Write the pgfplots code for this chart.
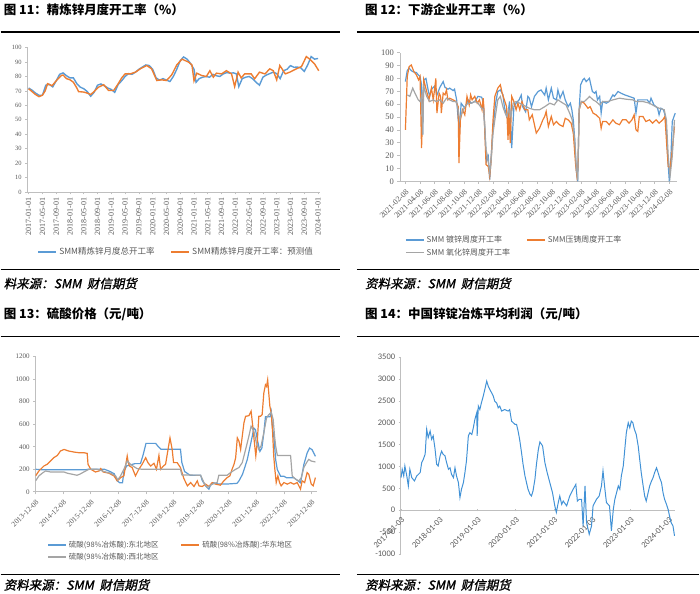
\documentclass[border=0pt]{standalone}
\usepackage{fontspec}
\usepackage{pgfplots}
\pgfplotsset{compat=1.18}
\setmainfont{Liberation Serif}
\newfontfamily\cjk{Noto Sans CJK SC}
\newfontfamily\cjksl[FakeSlant=0.2,FakeBold=1.2]{Noto Sans CJK SC}
\newfontfamily\calib{Carlito}
\definecolor{sblue}{RGB}{91,155,213}
\definecolor{pblue}{RGB}{66,146,214}
\definecolor{sorange}{RGB}{237,125,49}
\definecolor{sgray}{RGB}{165,165,165}
\definecolor{axgray}{RGB}{191,191,191}
\definecolor{labgray}{RGB}{89,89,89}

\pgfplotsset{
  panel/.style={
    scale only axis, axis x line*=bottom, axis y line*=left,
    axis line style={draw=axgray, line width=0.7pt},
    every tick/.style={draw=axgray, line width=0.6pt},
    major tick length=2.5pt, tick align=outside,
    ticklabel style={text=labgray},
    /pgf/number format/assume math mode=true,
    /pgf/number format/1000 sep={},
    legend cell align=left,
    legend style={draw=none, fill=none, inner sep=0pt, outer sep=0pt, text=labgray},
    legend image code/.code={\draw[##1, line width=1.8pt] (0pt,0pt) -- (18pt,0pt);},
  },
}

\begin{document}
\begin{tikzpicture}
\path (0pt,0pt) rectangle (700pt,-595pt);

% ---------- 图 11 ----------
\begin{axis}[panel, at={(27pt,-192.3pt)}, anchor=south west,
  width=292.7pt, height=144.6pt,
  xmin=-0.3, xmax=84.5, ymin=0, ymax=100, ytick={0,10,...,100},
  xtick={0,4,...,84},
  xticklabels={2017-01-01,2017-05-01,2017-09-01,2018-01-01,2018-05-01,2018-09-01,
    2019-01-01,2019-05-01,2019-09-01,2020-01-01,2020-05-01,2020-09-01,
    2021-01-01,2021-05-01,2021-09-01,2022-01-01,2022-05-01,2022-09-01,
    2023-01-01,2023-05-01,2023-09-01,2024-01-01},
  xticklabel style={rotate=90, anchor=east, font=\fontsize{8}{9}\selectfont},
  yticklabel style={font=\fontsize{6.5}{7}\selectfont},
  legend columns=2,
  legend style={at={(0.034,-0.372)}, anchor=north west, font=\cjk\fontsize{8.5}{10}\selectfont,
    /tikz/every even column/.append style={column sep=14pt}},
]
\addplot[color=sblue, line width=1.4pt] coordinates {
(0,72) (1,70.5) (2,68.5) (3,67) (4,67) (5,74) (6,74.5) (7,72.8) (8,77) (9,81.5)
(10,82.5) (11,80.5) (12,79) (13,79) (14,75) (15,72.6) (16,71.5) (17,69.6) (18,66.3) (19,69)
(20,74) (21,74.8) (22,73.5) (23,72) (24,71) (25,69) (26,74.5) (27,77) (28,80) (29,82)
(30,81.5) (31,83) (32,85) (33,86.5) (34,88) (35,87.6) (36,85) (37,79) (38,77.5) (39,78.5)
(40,77.5) (41,76.5) (42,80) (43,85) (44,91) (45,93.5) (46,92) (47,89) (48,85) (48.6,76)
(49.5,78.5) (50.5,79.5) (51.5,80) (52.5,79.5) (53.5,81.5) (54.5,80.5) (55.5,80) (56.5,81.8)
(57.5,82.7) (58.5,82.3) (59.5,82.5) (60.3,81.8) (61,73) (62,78.5) (63,79.5) (64,80) (65,78.5)
(66,76) (67,74) (68,79.5) (69,81) (70,82) (71,83) (72,82) (73,78.5) (74,84) (75,85)
(76,87.5) (77,86.4) (78,86.5) (79,86) (80,83.5) (81,88) (82,93.8) (83,92) (84,92.5)
};
\addlegendentry{SMM精炼锌月度总开工率}
\addplot[color=sorange, line width=1.4pt] coordinates {
(0,71.5) (1,69.5) (2,67.5) (3,66) (4,67) (4.8,70) (5.5,75) (6.8,73.6) (8,77) (9.5,80.7)
(10,81) (11,78.5) (12,77.7) (13,76) (14,72) (14.5,69.5) (16,69.2) (17,68.5) (18,67.5) (19,69.5)
(20.3,72.6) (21.8,74.3) (23.2,70.3) (24.7,70.3) (26,75) (27,79) (28,81.8) (29.5,81.8) (31,83)
(32.4,85.3) (34.3,87.6) (35.7,85.3) (36.5,81) (37.2,77.2) (38.6,77.7) (40,77.2) (41.5,81)
(43,88) (44.5,92) (46.4,90) (47.4,88) (48,77) (48.8,82.3) (50.2,80.7) (51.6,80) (52.6,84)
(53.6,79.5) (54.5,82.3) (56,81.8) (57.4,84) (58.9,81.8) (59.8,73) (60.8,83) (61.7,79)
(62.7,81.8) (64.6,81.8) (65.6,78.4) (67,83) (68.6,81.8) (70,85.3) (71,84) (72,77.7)
(72.9,87.6) (74.5,81.8) (75.8,83) (77.7,85.3) (79.2,86.9) (80.6,93.8) (81.6,92) (83,88.7) (84.2,84)
};
\addlegendentry{SMM精炼锌月度开工率：预测值}
\end{axis}

% ---------- 图 12 ----------
\begin{axis}[panel, at={(400pt,-181.7pt)}, anchor=south west,
  width=278pt, height=129pt,
  xmin=-0.75, xmax=37.1, ymin=0, ymax=100, ytick={0,10,...,100},
  xtick={0,2,...,36},
  xticklabels={2021-02-08,2021-04-08,2021-06-08,2021-08-08,2021-10-08,2021-12-08,
    2022-02-08,2022-04-08,2022-06-08,2022-08-08,2022-10-08,2022-12-08,
    2023-02-08,2023-04-08,2023-06-08,2023-08-08,2023-10-08,2023-12-08,2024-02-08},
  xticklabel style={rotate=45, anchor=north east, font=\fontsize{8}{9}\selectfont},
  yticklabel style={font=\fontsize{8.5}{9}\selectfont},
  legend columns=2,
  legend style={at={(0.018,-0.41)}, anchor=north west, font=\cjk\fontsize{8}{10}\selectfont,
    /tikz/every even column/.append style={column sep=14pt}},
]
\addplot[color=sblue, line width=1.2pt] coordinates {
(0,77.5) (0.25,86) (0.5,88) (0.8,86) (1.1,85) (1.5,84.5) (1.75,82.7) (2,81.4) (2.2,75) (2.35,36)
(2.5,78.8) (2.8,80) (3.1,71) (3.3,66) (3.56,71.6) (4,74) (4.3,67) (4.7,73) (5.15,77.5) (5.4,73)
(5.8,71.6) (6.05,72.4) (6.5,70.5) (6.7,71.6) (7,63) (7.2,47.8) (7.4,41.3) (7.6,60.7) (8.1,56.8)
(8.55,63.3) (9,60.7) (9.46,62) (9.9,66) (10.4,65.4) (10.6,62) (10.8,44) (11.05,15.5) (11.3,19.4)
(11.5,1.3) (11.7,19.4) (11.95,41.3) (12.3,60.7) (12.6,69.8) (12.95,71) (13.3,67.2) (13.5,58)
(13.8,50.4) (14,53) (14.2,62) (14.5,25.8) (14.8,58) (15.1,60.7) (15.5,63.3) (15.8,67) (16,58)
(16.4,54) (16.7,66) (16.9,64.6) (17.2,58) (17.6,66) (18.1,69.8) (18.5,71) (19,67) (19.2,72.4)
(19.5,63.3) (19.9,72.4) (20.2,64.6) (20.6,63.3) (20.8,71) (21.1,64.6) (21.5,69.8) (21.8,63.3)
(22.2,58) (22.5,60.7) (22.7,55.6) (22.9,47.8) (23.1,32.3) (23.3,9) (23.5,0) (23.7,55.6) (23.9,75)
(24.2,78.8) (24.4,80) (24.65,77.5) (24.9,78.8) (25.1,80) (25.5,69.8) (25.8,68.5) (26,69.8)
(26.2,63.3) (26.5,66) (26.7,53) (26.9,62) (27.4,60.7) (27.8,62) (28.3,67.2) (28.5,66) (29,69.8)
(29.4,68.5) (29.9,67.2) (30.5,66) (31.2,64.6) (31.45,53) (31.7,63.3) (32.4,63.3) (33,63.3)
(33.3,60.7) (33.5,64.6) (33.9,59.4) (34.4,56.8) (34.6,51.7) (34.85,56.8) (35.2,55.6) (35.4,51.7)
(35.6,40) (35.8,16.8) (36,0) (36.2,16.8) (36.4,46.5) (36.8,53)
};
\addlegendentry{SMM 镀锌周度开工率}
\addplot[color=sorange, line width=1.2pt] coordinates {
(0,40) (0.25,81.4) (0.5,89) (0.8,90.4) (1.15,85.3) (1.5,82.7) (1.8,78.8) (2,81.4) (2.2,25.8)
(2.5,78.8) (2.9,69.8) (3.2,63.3) (3.55,72.4) (3.8,63.3) (4,72.4) (4.15,80) (4.3,53) (4.6,68.5)
(4.8,66) (4.9,53) (5.15,68.5) (5.4,67.2) (5.6,71) (5.8,63.3) (6.05,64.6) (6.5,63.3) (6.9,62)
(7.2,58) (7.3,14.2) (7.5,47.8) (7.8,55.6) (8.1,51.7) (8.4,66) (8.7,59.4) (8.9,67.2) (9.1,63.3)
(9.46,66) (9.8,60.7) (10.1,63.3) (10.45,55.6) (10.6,64.6) (10.7,58) (11,13) (11.3,11.6)
(11.5,3.9) (11.7,16.8) (11.95,47.8) (12.2,66) (12.6,72.4) (12.95,75) (13.2,68.5) (13.5,63.3)
(13.8,58) (14,32.3) (14.1,55.6) (14.3,29.7) (14.5,66) (14.8,62) (15.1,55.6) (15.35,60.7)
(15.6,55.6) (15.9,62) (16.3,55.6) (16.7,55.6) (16.9,47.8) (17.3,51.7) (17.6,44) (17.85,37.5)
(18.3,41.3) (18.75,47.8) (19,50.4) (19.2,54.3) (19.5,42.6) (19.9,50.4) (20.2,44) (20.6,46.5)
(21,44) (21.5,42.6) (21.8,49) (22.2,47.8) (22.6,45.2) (22.9,37.5) (23.2,14.2) (23.4,3.9)
(23.55,11.6) (23.7,55.6) (24,62) (24.4,60.7) (24.9,56.8) (25.2,58) (25.6,53) (26,51.7) (26.5,49)
(26.7,41.3) (26.9,46.5) (27.4,46.5) (27.8,44) (28.3,47.8) (28.7,45.2) (29.2,44) (29.6,47.8)
(30.1,47.8) (30.5,45.2) (30.9,47.8) (31.2,51.7) (31.45,40) (31.7,38.8) (31.9,50.4) (32.4,50.4)
(32.8,46.5) (33.3,47.8) (33.7,45.2) (34.2,47.8) (34.6,45.2) (35.1,47.8) (35.4,50.4) (35.6,32.3)
(35.85,11.6) (36.1,10.3) (36.4,24.5) (36.7,42.6)
};
\addlegendentry{SMM压铸周度开工率}
\addplot[color=sgray, line width=1.2pt] coordinates {
(0.25,67.2) (0.6,66) (1,72.4) (1.3,68.5) (1.75,63.3) (2,62) (2.2,66) (2.35,36.2) (2.5,73.6)
(2.9,66) (3.3,62) (3.8,63.3) (4.2,62) (4.7,63.3) (5.15,60.7) (5.6,64.6) (6.05,63.3) (6.5,62)
(6.9,62) (7.2,55.6) (7.4,47.8) (7.6,51.7) (8.1,58) (8.55,60.7) (9,60.7) (9.46,62) (9.9,60.7)
(10.4,56.8) (10.7,55.6) (11,24.5) (11.2,19.4) (11.5,6.5) (11.7,16.8) (11.95,37.5) (12.3,51.7)
(12.6,63.3) (12.95,66) (13.3,58) (13.6,53) (13.85,50.4) (14.1,55.6) (14.4,50.4) (14.7,60.7)
(15.1,62) (15.6,60.7) (16,59.4) (16.5,58) (16.9,56.8) (17.6,55.6) (18.3,55.6) (19,58)
(19.7,60.7) (20.3,59.4) (20.8,63.3) (21.5,60.7) (21.9,59.4) (22.4,53) (22.75,47.8) (23.1,32.3)
(23.3,11.6) (23.5,1.3) (23.7,55.6) (24,62) (24.4,62) (24.9,64.6) (25.1,66) (25.6,63.3) (26,62)
(26.5,59.4) (26.9,62) (27.6,62) (28.3,63.3) (29.2,64.6) (30.1,63.8) (31,63.3) (31.45,62)
(32.4,62) (33.3,60.7) (33.9,58.7) (34.6,56.8) (35.3,55.6) (35.6,47.8) (35.85,19.4) (36.1,3.9)
(36.4,19.4) (36.7,47.8)
};
\addlegendentry{SMM 氧化锌周度开工率}
\end{axis}

% ---------- 图 13 ----------
\begin{axis}[panel, at={(35pt,-492.7pt)}, anchor=south west,
  width=282pt, height=135.4pt,
  xmin=0, xmax=10.2, ymin=0, ymax=1200, ytick={0,200,...,1200},
  xtick={0,1,...,10},
  xticklabels={2013-12-08,2014-12-08,2015-12-08,2016-12-08,2017-12-08,2018-12-08,
    2019-12-08,2020-12-08,2021-12-08,2022-12-08,2023-12-08},
  xticklabel style={rotate=45, anchor=north east, font=\fontsize{7.5}{8}\selectfont},
  yticklabel style={font=\fontsize{7}{8}\selectfont},
  legend columns=2,
  legend style={at={(0.041,-0.35)}, anchor=north west, font=\cjk\fontsize{7.5}{9}\selectfont,
    /tikz/every even column/.append style={column sep=20pt}},
]
\addplot[color=sblue, line width=1.2pt] coordinates {
(0,200) (0.3,195) (1.8,195) (1.9,200) (2.5,200) (2.7,180) (2.85,160) (2.95,100) (3.05,80)
(3.15,80) (3.2,180) (3.3,230) (3.6,250) (3.8,250) (3.9,330) (4.0,430) (4.35,430) (4.45,400)
(4.55,377) (5.25,377) (5.3,260) (5.4,180) (5.6,147) (5.98,147) (6.04,100) (6.16,53) (6.28,23)
(6.34,59) (6.46,80) (6.6,70) (7.0,70) (7.3,75) (7.37,97) (7.5,156) (7.67,285) (7.85,491)
(7.91,565) (7.97,550) (8.05,447) (8.13,359) (8.2,388) (8.27,520) (8.33,667) (8.5,667)
(8.54,711) (8.58,579) (8.64,476) (8.7,285) (8.76,197) (8.88,138) (9.0,138) (9.1,124) (9.36,124)
(9.48,103) (9.6,80) (9.72,241) (9.84,344) (9.93,388) (10.02,374) (10.08,344) (10.14,315)
};
\addlegendentry{硫酸(98\%冶炼酸):东北地区}
\addplot[color=sorange, line width=1.2pt] coordinates {
(0,141) (0.12,185) (0.3,229) (0.42,244) (0.54,273) (0.66,303) (0.79,323) (0.9,362) (1.03,376)
(1.2,362) (1.39,353) (1.57,347) (1.75,347) (1.87,341) (1.9,244) (2.0,200) (2.17,176) (2.3,185)
(2.36,206) (2.45,176) (2.66,165) (2.84,141) (2.96,97) (3.08,126) (3.2,141) (3.32,318) (3.36,259)
(3.4,229) (3.5,215) (3.62,141) (3.74,200) (3.86,244) (3.99,303) (4.07,259) (4.17,229) (4.29,253)
(4.38,200) (4.47,323) (4.53,200) (4.63,229) (4.71,244) (4.8,376) (4.87,479) (4.95,376) (5.0,259)
(5.13,259) (5.25,215) (5.37,120) (5.5,53) (5.62,82) (5.74,47) (5.86,97) (5.92,53) (6.04,47)
(6.16,68) (6.28,47) (6.4,82) (6.52,68) (6.7,59) (6.82,97) (6.94,126) (7.04,141) (7.12,200)
(7.19,244) (7.25,303) (7.31,479) (7.37,450) (7.43,376) (7.49,494) (7.55,612) (7.61,670)
(7.73,676) (7.81,715) (7.87,582) (7.93,435) (7.98,318) (8.03,435) (8.09,670) (8.15,670)
(8.21,685) (8.27,876) (8.33,950) (8.37,935) (8.41,994) (8.45,876) (8.49,759) (8.54,700)
(8.59,524) (8.63,318) (8.67,200) (8.72,82) (8.78,141) (8.84,82) (8.9,53) (9.0,82) (9.12,68)
(9.24,82) (9.36,68) (9.48,82) (9.54,53) (9.6,24) (9.66,97) (9.75,82) (9.84,171) (9.9,156)
(9.99,68) (10.06,53) (10.14,126)
};
\addlegendentry{硫酸(98\%冶炼酸):华东地区}
\addplot[color=sgray, line width=1.2pt] coordinates {
(0,97) (0.12,141) (0.24,165) (0.36,185) (0.54,176) (1.03,176) (1.15,165) (1.5,147) (1.6,156)
(1.75,176) (1.93,200) (2.23,200) (2.54,176) (2.72,165) (2.9,141) (2.98,106) (3.08,141) (3.2,200)
(3.32,273) (3.44,244) (3.56,224) (3.68,206) (3.86,200) (5.13,200) (5.25,200) (5.3,150)
(5.98,147) (6.1,82) (6.22,38) (6.4,68) (6.58,82) (6.64,147) (6.94,147) (7.07,171) (7.25,200)
(7.37,215) (7.49,259) (7.61,376) (7.73,494) (7.81,582) (7.91,538) (8.0,435) (8.09,376)
(8.17,406) (8.27,524) (8.37,656) (8.45,685) (8.54,706) (8.61,641) (8.66,494) (8.7,406)
(8.76,323) (9.24,323) (9.3,141) (9.42,112) (9.54,97) (9.63,126) (9.72,215) (9.82,259) (9.9,288)
(9.99,273) (10.14,265)
};
\addlegendentry{硫酸(98\%冶炼酸):西北地区}
\end{axis}

% ---------- 图 14 ----------
\begin{axis}[panel, axis x line=middle, axis y line=left, axis line style={-},
  hide obscured x ticks=false,
  at={(400pt,-555pt)}, anchor=south west,
  width=275.5pt, height=197.3pt,
  xmin=-0.03, xmax=7.16, ymin=-1000, ymax=3500, ytick={-1000,-500,...,3500},
  xtick={0,1,...,7},
  xticklabels={2017-01-03,2018-01-03,2019-01-03,2020-01-03,2021-01-03,2022-01-03,2023-01-03,2024-01-03},
  xticklabel style={rotate=45, anchor=north east, font=\calib\fontsize{8.5}{9}\selectfont},
  yticklabel style={font=\calib\fontsize{8.5}{9}\selectfont},
]
\addplot[color=pblue, line width=1pt] coordinates {
(0,745) (0.03,935) (0.07,783) (0.1,1010) (0.15,783) (0.19,555) (0.23,935) (0.28,745) (0.35,670)
(0.41,783) (0.5,860) (0.54,1090) (0.58,1160) (0.63,1280) (0.67,1850) (0.71,1660) (0.76,1810)
(0.8,1620) (0.84,1700) (0.89,1390) (0.93,1050) (0.97,1010) (1.02,1240) (1.06,1350) (1.1,1280)
(1.15,1240) (1.19,1090) (1.24,935) (1.28,970) (1.32,820) (1.37,745) (1.41,970) (1.45,783)
(1.5,630) (1.54,290) (1.58,480) (1.63,630) (1.67,860) (1.71,1125) (1.76,1700) (1.8,1770)
(1.85,1730) (1.89,1885) (1.93,2075) (1.98,2230) (1.99,1700) (2.02,2380) (2.06,2300) (2.1,2450)
(2.15,2610) (2.19,2760) (2.24,2950) (2.28,2835) (2.32,2760) (2.37,2680) (2.41,2610) (2.45,2490)
(2.5,2450) (2.54,2340) (2.58,2380) (2.63,2265) (2.71,2300) (2.8,2265) (2.84,2300) (2.89,2035)
(2.98,1960) (3.02,1960) (3.06,1810) (3.1,1620) (3.15,1315) (3.19,1050) (3.24,783) (3.28,630)
(3.32,480) (3.37,365) (3.41,325) (3.45,440) (3.5,705) (3.54,1050) (3.59,1390) (3.63,1560)
(3.7,1470) (3.76,1090) (3.82,860) (3.89,630) (3.96,400) (4.02,100) (4.06,-50) (4.11,175)
(4.15,325) (4.2,135) (4.24,210) (4.33,100) (4.41,325) (4.5,480) (4.57,590) (4.61,210) (4.66,250)
(4.72,250) (4.76,-360) (4.81,555) (4.85,-280) (4.92,-550) (4.98,-360) (5.02,100) (5.11,250)
(5.18,325) (5.24,555) (5.28,900) (5.33,480) (5.37,175) (5.45,100) (5.5,-470) (5.55,25) (5.59,250)
(5.68,555) (5.72,480) (5.76,783) (5.81,1010) (5.85,1390) (5.89,1770) (5.94,2000) (5.98,1885)
(6.02,2035) (6.06,2000) (6.1,1850) (6.15,1730) (6.2,1470) (6.24,1160) (6.28,860) (6.33,555)
(6.37,325) (6.41,210) (6.46,400) (6.5,555) (6.55,670) (6.59,745) (6.63,860) (6.68,970)
(6.72,860) (6.76,745) (6.81,630) (6.85,400) (6.89,250) (6.94,135) (6.98,25) (7.02,-130)
(7.06,-280) (7.11,-360) (7.15,-585)
};
\end{axis}

% ---------- titles, rules, sources ----------
\node[anchor=west, inner sep=0pt] at (3pt,-10pt) {\cjk\bfseries\fontsize{12.5}{14}\selectfont 图 11：精炼锌月度开工率（\%）};
\node[anchor=west, inner sep=0pt] at (365pt,-10pt) {\cjk\bfseries\fontsize{12.5}{14}\selectfont 图 12：下游企业开工率（\%）};
\node[anchor=west, inner sep=0pt] at (3pt,-315pt) {\cjk\bfseries\fontsize{12.5}{14}\selectfont 图 13：硫酸价格（元/吨）};
\node[anchor=west, inner sep=0pt] at (365pt,-315pt) {\cjk\bfseries\fontsize{12.5}{14}\selectfont 图 14：中国锌锭冶炼平均利润（元/吨）};

\draw[line width=1.3pt] (0pt,-32pt) -- (340pt,-32pt);
\draw[line width=1.3pt] (357pt,-32pt) -- (700pt,-32pt);
\draw[line width=1.3pt] (0pt,-337pt) -- (340pt,-337pt);
\draw[line width=1.3pt] (357pt,-337pt) -- (700pt,-337pt);
\draw[line width=1pt] (0pt,-270pt) -- (340pt,-270pt);
\draw[line width=1pt] (357pt,-270pt) -- (700pt,-270pt);
\draw[line width=1pt] (0pt,-576pt) -- (340pt,-576pt);
\draw[line width=1pt] (357pt,-576pt) -- (700pt,-576pt);

\node[anchor=west, inner sep=0pt] at (3pt,-284pt) {\cjksl\fontsize{12.5}{14}\selectfont 料来源：SMM\ \ 财信期货};
\node[anchor=west, inner sep=0pt] at (365pt,-284pt) {\cjksl\fontsize{12.5}{14}\selectfont 资料来源：SMM\ \ 财信期货};
\node[anchor=west, inner sep=0pt] at (3pt,-586pt) {\cjksl\fontsize{12.5}{14}\selectfont 资料来源：SMM\ \ 财信期货};
\node[anchor=west, inner sep=0pt] at (365pt,-586pt) {\cjksl\fontsize{12.5}{14}\selectfont 资料来源：SMM\ \ 财信期货};
\end{tikzpicture}
\end{document}
